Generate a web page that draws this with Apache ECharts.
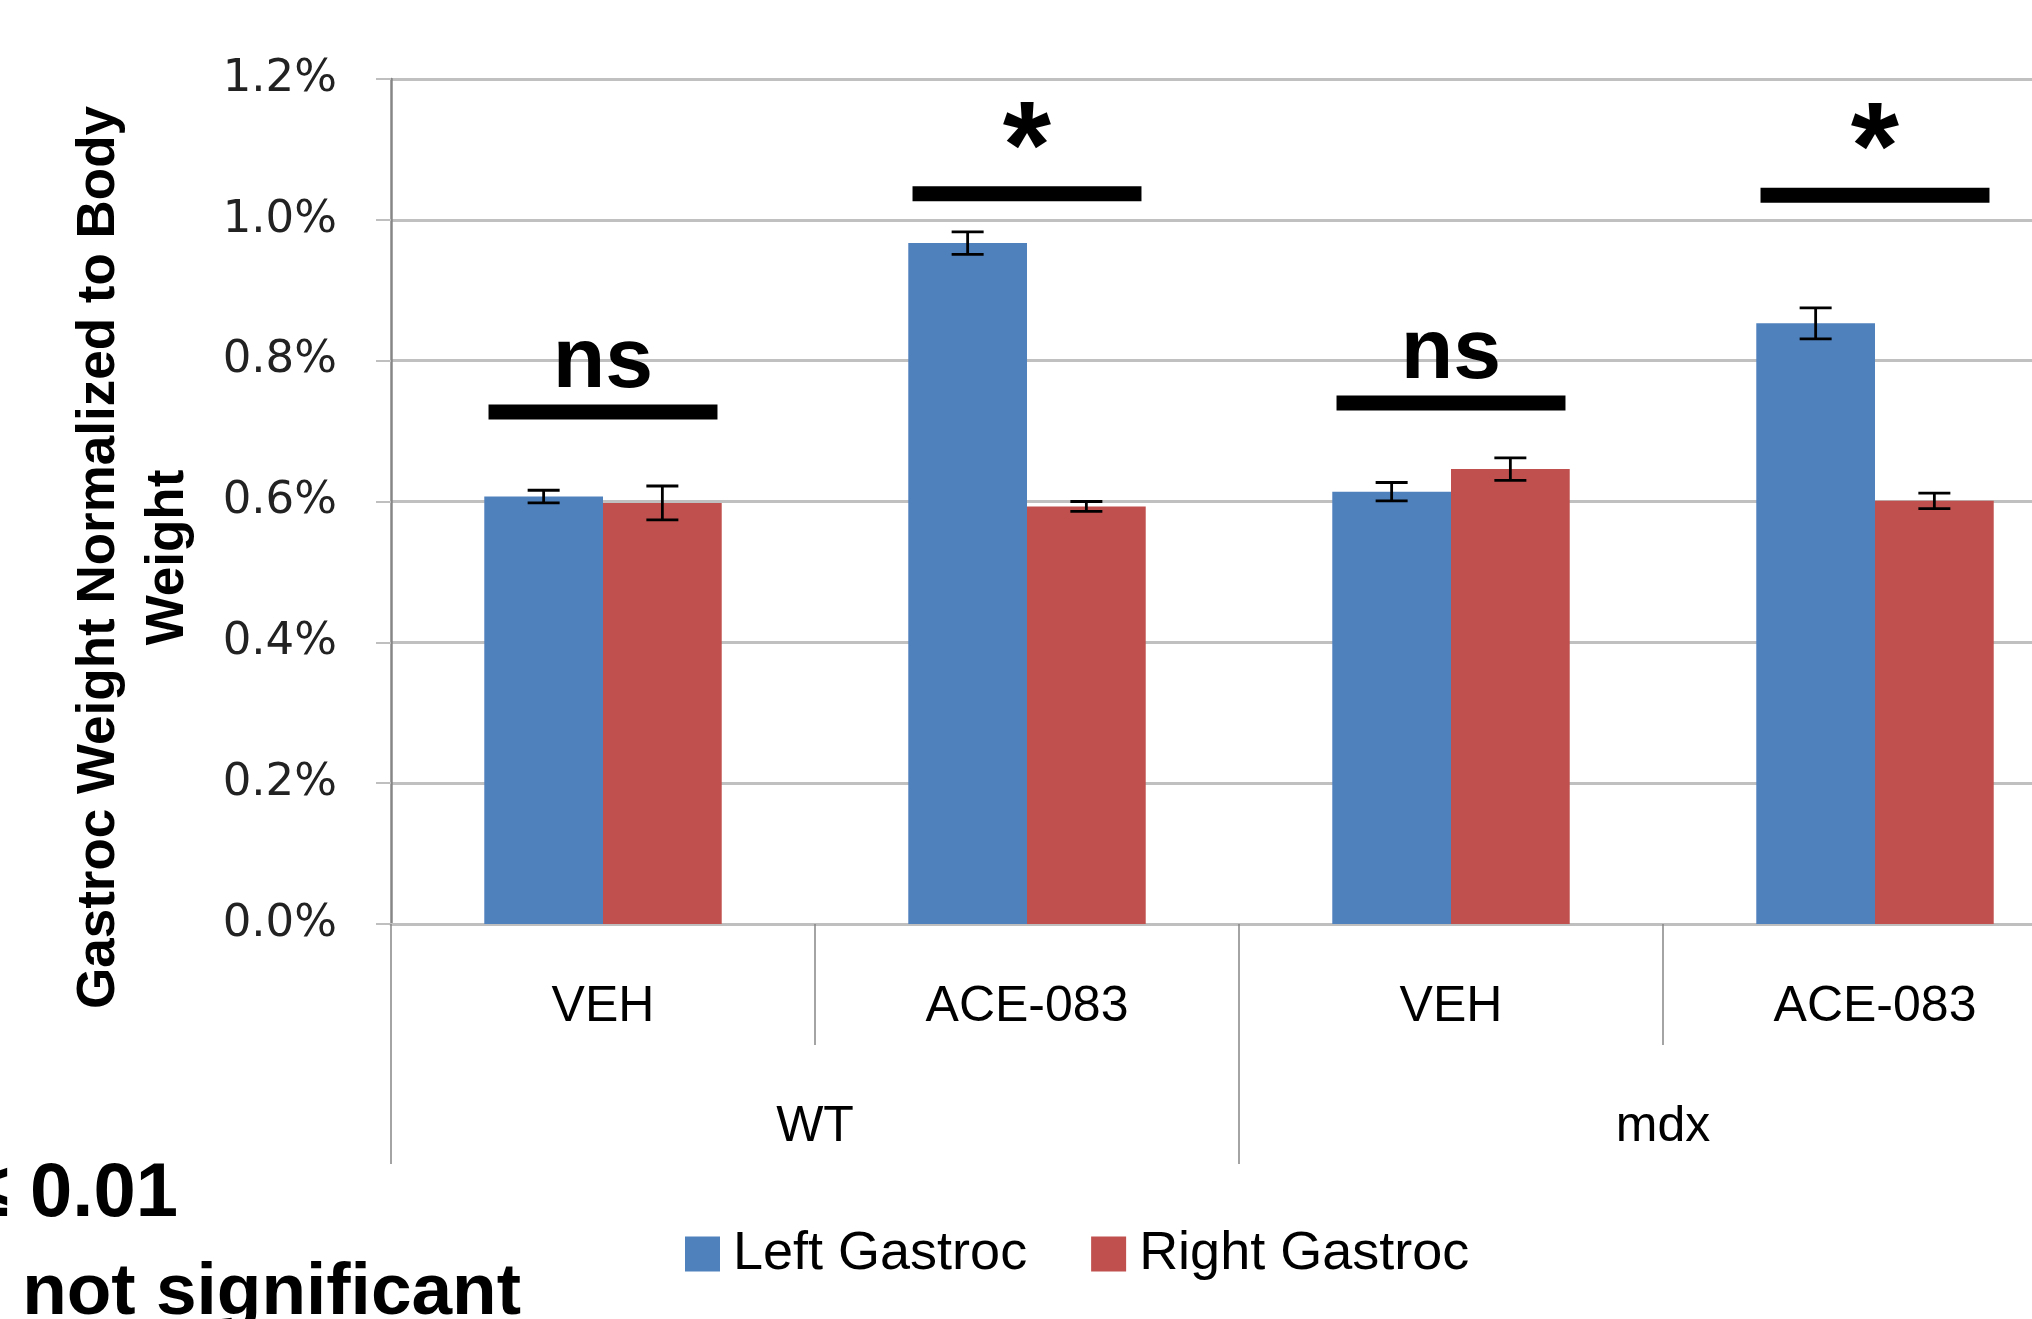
<!DOCTYPE html>
<html>
<head>
<meta charset="utf-8">
<title>Gastroc Weight Normalized to Body Weight</title>
<script src="https://cdn.jsdelivr.net/npm/echarts@6/dist/echarts.min.js"></script>
<style>
  html, body { margin: 0; padding: 0; background: #ffffff; }
  #chart { width: 2032px; height: 1319px; }
</style>
</head>
<body>
<div id="chart"></div>
<script>
// Treatment categories, grouped by genotype
const categories = ['VEH', 'ACE-083', 'VEH', 'ACE-083'];
const groups = ['WT', 'mdx'];

// Gastrocnemius weight as % of body weight (mean ± SEM)
const leftMean  = [0.607, 0.967, 0.614, 0.853];
const leftErr   = [0.009, 0.016, 0.013, 0.022];
const rightMean = [0.598, 0.593, 0.646, 0.601];
const rightErr  = [0.024, 0.007, 0.016, 0.011];

// Left vs right comparison bars and their labels
const sigLevel  = [0.727, 1.037, 0.740, 1.035];
const sigLabels = ['ns', '*', 'ns', '*'];

// Y axis range
const yMin = 0, yMax = 1.2, yStep = 0.2;

const BLUE = '#4F81BD';
const RED = '#C0504D';
const FONT = '"Liberation Sans", Arial, sans-serif';

// Bars occupy 56% of each category band, two bars side by side
const BAR_SHARE = 0.56;
const barShift = BAR_SHARE / 4;

function errorBarRenderer(shift) {
  return function (params, api) {
    const i = api.value(0);
    const m = api.value(1);
    const e = api.value(2);
    const bw = api.size([1, 0])[0];
    const x = api.coord([i, m])[0] + shift * bw;
    const yHi = api.coord([i, m + e])[1];
    const yLo = api.coord([i, m - e])[1];
    const cap = 16;
    const style = { stroke: '#000', lineWidth: 2.8 };
    return {
      type: 'group',
      children: [
        { type: 'line', shape: { x1: x, y1: yHi, x2: x, y2: yLo }, style },
        { type: 'line', shape: { x1: x - cap, y1: yHi, x2: x + cap, y2: yHi }, style },
        { type: 'line', shape: { x1: x - cap, y1: yLo, x2: x + cap, y2: yLo }, style }
      ]
    };
  };
}

function sigRenderer(params, api) {
  const i = api.value(0);
  const v = api.value(1);
  const label = sigLabels[params.dataIndex];
  const bw = api.size([1, 0])[0];
  const c = api.coord([i, v]);
  const half = bw * 0.27;
  const thick = 15;
  const isStar = label === '*';
  return {
    type: 'group',
    children: [
      {
        type: 'rect',
        shape: { x: c[0] - half, y: c[1] - thick / 2, width: half * 2, height: thick },
        style: { fill: '#000' }
      },
      {
        type: 'text',
        style: {
          x: c[0],
          y: isStar ? c[1] - 40 : c[1] - 49,
          text: label,
          font: 'bold ' + (isStar ? 124 : 86) + 'px ' + FONT,
          fill: '#000',
          align: 'center',
          verticalAlign: 'middle'
        }
      }
    ]
  };
}

const chart = echarts.init(document.getElementById('chart'), null, { renderer: 'canvas' });

chart.setOption({
  backgroundColor: '#ffffff',
  animation: false,
  grid: { left: 391, top: 79, width: 1696, height: 845, containLabel: false, outerBoundsMode: 'none' },
  legend: {
    data: ['Left Gastroc', 'Right Gastroc'],
    left: 680,
    top: 1222,
    icon: 'rect',
    itemWidth: 35,
    itemHeight: 35,
    itemGap: 64,
    textStyle: { fontFamily: FONT, fontSize: 54, color: '#000', padding: [0, 0, 0, 8] }
  },
  xAxis: [
    {
      type: 'category',
      data: categories,
      position: 'bottom',
      axisLine: { show: true, lineStyle: { color: '#bfbfbf', width: 3 } },
      axisTick: { show: true, length: 121, interval: 0, lineStyle: { color: '#868686', width: 1.5 } },
      axisLabel: { margin: 58, fontFamily: FONT, fontSize: 50, color: '#000', interval: 0 },
      splitLine: { show: false }
    },
    {
      type: 'category',
      data: groups,
      position: 'bottom',
      axisLine: { show: false },
      axisTick: { show: true, length: 240, interval: 0, lineStyle: { color: '#868686', width: 1.5 } },
      axisLabel: { margin: 178, fontFamily: FONT, fontSize: 50, color: '#000', interval: 0 },
      splitLine: { show: false }
    }
  ],
  yAxis: {
    type: 'value',
    min: yMin,
    max: yMax,
    interval: yStep,
    name: 'Gastroc Weight Normalized to Body\nWeight',
    nameLocation: 'middle',
    nameRotate: 90,
    nameGap: 188,
    nameTextStyle: {
      fontFamily: FONT, fontSize: 53, fontWeight: 'bold', color: '#000', lineHeight: 69,
      padding: [0, 112, 0, 0]
    },
    axisLine: { show: true, lineStyle: { color: '#868686', width: 2.5 } },
    axisTick: { show: true, length: 15, lineStyle: { color: '#bfbfbf', width: 2 } },
    axisLabel: {
      margin: 54,
      fontFamily: '"DejaVu Sans", sans-serif',
      fontSize: 45,
      color: '#222',
      formatter: v => v.toFixed(1) + '%'
    },
    splitLine: { show: true, lineStyle: { color: '#c0c0c0', width: 3 } }
  },
  graphic: [
    {
      type: 'text',
      style: {
        x: 178, y: 1195,
        text: '* p ≤ 0.01',
        font: 'bold 76px ' + FONT,
        fill: '#000',
        align: 'right',
        verticalAlign: 'middle'
      }
    },
    {
      type: 'text',
      style: {
        x: 521, y: 1294,
        text: 'ns = not significant',
        font: 'bold 73px ' + FONT,
        fill: '#000',
        align: 'right',
        verticalAlign: 'middle'
      }
    }
  ],
  series: [
    {
      name: 'Left Gastroc',
      type: 'bar',
      data: leftMean,
      itemStyle: { color: BLUE },
      barGap: '0%',
      barCategoryGap: ((1 - BAR_SHARE) * 100) + '%'
    },
    {
      name: 'Right Gastroc',
      type: 'bar',
      data: rightMean,
      itemStyle: { color: RED },
      barGap: '0%',
      barCategoryGap: ((1 - BAR_SHARE) * 100) + '%'
    },
    {
      type: 'custom',
      name: 'Left error',
      renderItem: errorBarRenderer(-barShift),
      data: leftMean.map((m, i) => [i, m, leftErr[i]]),
      encode: { x: 0, y: 1 },
      z: 5,
      silent: true
    },
    {
      type: 'custom',
      name: 'Right error',
      renderItem: errorBarRenderer(barShift),
      data: rightMean.map((m, i) => [i, m, rightErr[i]]),
      encode: { x: 0, y: 1 },
      z: 5,
      silent: true
    },
    {
      type: 'custom',
      name: 'Significance',
      renderItem: sigRenderer,
      data: sigLevel.map((v, i) => [i, v]),
      encode: { x: 0, y: 1 },
      z: 6,
      silent: true
    }
  ]
});
</script>
</body>
</html>
